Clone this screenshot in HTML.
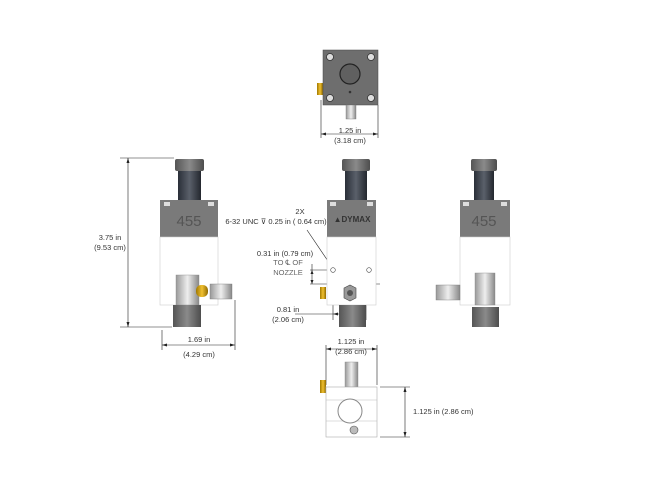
<!DOCTYPE html>
<html><head><meta charset="utf-8"><style>
html,body{margin:0;padding:0;background:#fff;width:650px;height:497px;overflow:hidden}
svg{display:block}
text{font-family:"Liberation Sans",sans-serif;font-size:7.5px;fill:#333}
</style></head><body>
<svg width="650" height="497" viewBox="0 0 650 497" xmlns="http://www.w3.org/2000/svg">
<defs>
<linearGradient id="kn" x1="0" x2="1"><stop offset="0" stop-color="#2a2f38"/><stop offset=".5" stop-color="#5a606a"/><stop offset="1" stop-color="#23272e"/></linearGradient>
<linearGradient id="cap" x1="0" x2="1"><stop offset="0" stop-color="#555"/><stop offset=".5" stop-color="#8a8a8a"/><stop offset="1" stop-color="#4d4d4d"/></linearGradient>
<linearGradient id="met" x1="0" x2="1"><stop offset="0" stop-color="#999"/><stop offset=".5" stop-color="#eee"/><stop offset="1" stop-color="#888"/></linearGradient>
<linearGradient id="gold" x1="0" x2="1"><stop offset="0" stop-color="#a07800"/><stop offset=".5" stop-color="#f0c030"/><stop offset="1" stop-color="#906a00"/></linearGradient>
</defs>
<g stroke="#222" stroke-width=".6" fill="none">
<!-- top view dims -->
<line x1="321" y1="100" x2="321" y2="138"/><line x1="378" y1="105" x2="378" y2="138"/>
<line x1="321" y1="134" x2="378" y2="134"/>
<!-- left view dims -->
<line x1="120" y1="158" x2="174" y2="158"/><line x1="120" y1="327" x2="172" y2="327"/>
<line x1="128" y1="158" x2="128" y2="327"/>
<line x1="162" y1="330" x2="162" y2="350"/><line x1="235" y1="300" x2="235" y2="350"/>
<line x1="162" y1="345" x2="235" y2="345"/>
<!-- middle dims -->
<line x1="307" y1="230" x2="332" y2="267"/>
<line x1="310" y1="270" x2="330" y2="270"/><line x1="310" y1="284" x2="380" y2="284"/>
<line x1="312" y1="264" x2="312" y2="284"/>
<line x1="369" y1="274" x2="369" y2="284"/>
<line x1="333" y1="300" x2="333" y2="320"/><line x1="366" y1="300" x2="366" y2="320"/>
<line x1="295" y1="314" x2="366" y2="314"/>
<!-- bottom view dims -->
<line x1="326" y1="345" x2="326" y2="385"/><line x1="377" y1="345" x2="377" y2="385"/>
<line x1="326" y1="349" x2="377" y2="349"/>
<line x1="380" y1="387" x2="410" y2="387"/><line x1="380" y1="437" x2="410" y2="437"/>
<line x1="405" y1="387" x2="405" y2="437"/>
</g>
<!-- arrowheads -->
<g fill="#222">
<path d="M321 134l5-1.5v3z M378 134l-5-1.5v3z"/>
<path d="M128 158l-1.5 5h3z M128 327l-1.5-5h3z"/>
<path d="M162 345l5-1.5v3z M235 345l-5-1.5v3z"/>
<path d="M332 267l-3.5-3 2.5-1.5z"/>
<path d="M312 270l-1.5 4h3z M312 284l-1.5-4h3z"/>
<path d="M333 314l5-1.5v3z M366 314l-5-1.5v3z"/>
<path d="M326 349l5-1.5v3z M377 349l-5-1.5v3z"/>
<path d="M405 387l-1.5 5h3z M405 437l-1.5-5h3z"/>
</g>
<!-- top view -->
<rect x="317" y="83" width="6" height="12" fill="url(#gold)"/>
<rect x="323" y="50" width="55" height="55" fill="#6e6e6e" stroke="#444" stroke-width=".5"/>
<g fill="#ddd" stroke="#333" stroke-width=".8"><circle cx="330" cy="57" r="3.5"/><circle cx="371" cy="57" r="3.5"/><circle cx="330" cy="98" r="3.5"/><circle cx="371" cy="98" r="3.5"/></g>
<circle cx="350" cy="74" r="10" fill="#606060" stroke="#222" stroke-width="1.2"/>
<circle cx="350" cy="92" r="1.3" fill="#333"/>
<rect x="346" y="105" width="10" height="14" fill="url(#met)" stroke="#777" stroke-width=".4"/>
<text x="350" y="133" text-anchor="middle">1.25 in</text>
<text x="350" y="143" text-anchor="middle">(3.18 cm)</text>

<!-- left view -->
<rect x="175" y="159" width="29" height="12" rx="2" fill="url(#cap)"/>
<rect x="178" y="171" width="23" height="29" fill="url(#kn)"/>
<rect x="160" y="200" width="58" height="37" fill="#7a7a7a"/>
<rect x="164" y="202" width="6" height="4" fill="#ddd"/><rect x="208" y="202" width="6" height="4" fill="#ddd"/>
<text x="189" y="226" text-anchor="middle" style="font-size:15px;fill:#555">455</text>
<rect x="160" y="237" width="58" height="68" fill="#fff" stroke="#ccc" stroke-width=".6"/>
<rect x="176" y="275" width="23" height="30" fill="url(#met)" stroke="#888" stroke-width=".4"/>
<rect x="196" y="285" width="12" height="12" rx="5" fill="url(#gold)"/>
<rect x="210" y="284" width="22" height="15" fill="url(#met)" stroke="#777" stroke-width=".4"/>
<rect x="173" y="305" width="28" height="22" fill="url(#cap)"/>
<text x="110" y="240" text-anchor="middle">3.75 in</text>
<text x="110" y="250" text-anchor="middle">(9.53 cm)</text>
<text x="199" y="342" text-anchor="middle">1.69 in</text>
<text x="199" y="357" text-anchor="middle">(4.29 cm)</text>

<!-- middle view -->
<rect x="342" y="159" width="28" height="12" rx="2" fill="url(#cap)"/>
<rect x="345" y="171" width="22" height="29" fill="url(#kn)"/>
<rect x="327" y="200" width="49" height="37" fill="#7a7a7a"/>
<rect x="330" y="202" width="6" height="4" fill="#ddd"/><rect x="367" y="202" width="6" height="4" fill="#ddd"/>
<text x="352" y="222" text-anchor="middle" style="font-size:8px;font-weight:bold;fill:#333">▲DYMAX</text>
<rect x="327" y="237" width="49" height="68" fill="#fff" stroke="#ccc" stroke-width=".6"/>
<circle cx="333" cy="270" r="2.3" fill="#fff" stroke="#444" stroke-width=".6"/>
<circle cx="369" cy="270" r="2.3" fill="#fff" stroke="#444" stroke-width=".6"/>
<rect x="320" y="287" width="6" height="12" fill="url(#gold)"/>
<polygon points="344,288 350,285 356,288 356,298 350,301 344,298" fill="#999" stroke="#444" stroke-width=".6"/>
<circle cx="350" cy="293" r="3" fill="#555"/>
<rect x="339" y="305" width="27" height="22" fill="url(#cap)"/>
<text x="300" y="214" text-anchor="middle">2X</text>
<text x="276" y="224" text-anchor="middle">6-32 UNC ⊽ 0.25 in ( 0.64 cm)</text>
<text x="285" y="256" text-anchor="middle">0.31 in (0.79 cm)</text>
<text x="288" y="265" text-anchor="middle" style="fill:#666">TO ℄  OF</text>
<text x="288" y="275" text-anchor="middle" style="fill:#666">NOZZLE</text>
<text x="288" y="312" text-anchor="middle">0.81 in</text>
<text x="288" y="322" text-anchor="middle">(2.06 cm)</text>

<!-- right view -->
<rect x="471" y="159" width="26" height="12" rx="2" fill="url(#cap)"/>
<rect x="474" y="171" width="20" height="29" fill="url(#kn)"/>
<rect x="460" y="200" width="50" height="37" fill="#7a7a7a"/>
<rect x="463" y="202" width="6" height="4" fill="#ddd"/><rect x="501" y="202" width="6" height="4" fill="#ddd"/>
<text x="484" y="226" text-anchor="middle" style="font-size:15px;fill:#555">455</text>
<rect x="460" y="237" width="50" height="68" fill="#fff" stroke="#ccc" stroke-width=".6"/>
<rect x="475" y="273" width="20" height="32" fill="url(#met)" stroke="#888" stroke-width=".4"/>
<rect x="436" y="285" width="24" height="15" fill="url(#met)" stroke="#777" stroke-width=".4"/>
<rect x="472" y="307" width="27" height="20" fill="url(#cap)"/>

<!-- bottom view -->
<rect x="345" y="362" width="13" height="25" fill="url(#met)" stroke="#888" stroke-width=".4"/>
<rect x="320" y="380" width="6" height="13" fill="url(#gold)"/>
<rect x="326" y="387" width="51" height="50" fill="#fff" stroke="#aaa" stroke-width=".6"/>
<line x1="326" y1="400" x2="377" y2="400" stroke="#bbb" stroke-width=".5"/>
<line x1="326" y1="421" x2="377" y2="421" stroke="#bbb" stroke-width=".5"/>
<circle cx="350" cy="411" r="12" fill="#fff" stroke="#888" stroke-width="1"/>
<circle cx="354" cy="430" r="4" fill="#bbb" stroke="#555" stroke-width=".6"/>
<text x="351" y="344" text-anchor="middle">1.125 in</text>
<text x="351" y="354" text-anchor="middle">(2.86 cm)</text>
<text x="413" y="414">1.125 in (2.86 cm)</text>
</svg>
</body></html>
